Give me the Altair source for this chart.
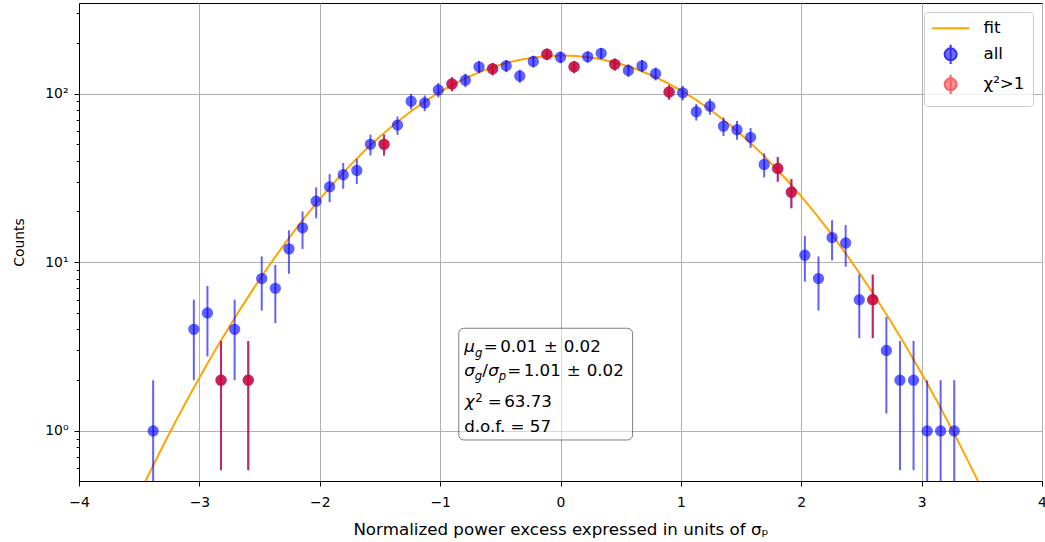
import altair as alt
import numpy as np
import pandas as pd

# ---- data ----
bin_x = [-3.384, -3.046, -2.933, -2.820, -2.707, -2.594, -2.482, -2.369,
         -2.256, -2.143, -2.030, -1.918, -1.805, -1.692, -1.579, -1.466,
         -1.354, -1.241, -1.128, -1.015, -0.902, -0.790, -0.677, -0.564,
         -0.451, -0.338, -0.226, -0.113, 0.000, 0.113, 0.226, 0.338,
         0.451, 0.564, 0.677, 0.790, 0.902, 1.015, 1.128, 1.241,
         1.354, 1.466, 1.579, 1.692, 1.805, 1.918, 2.030, 2.143,
         2.256, 2.369, 2.482, 2.594, 2.707, 2.820, 2.933, 3.046,
         3.158, 3.271]
counts = [1, 4, 5, 2, 4, 2, 8, 7,
          12, 16, 23, 28, 33, 35, 50, 50,
          65, 90, 88, 105, 114, 120, 144, 140,
          146, 127, 155, 171, 164, 144, 165, 173,
          149, 137, 146, 131, 102, 101, 78, 84,
          64, 61, 55, 38, 36, 26, 11, 8,
          14, 13, 6, 6, 3, 2, 2, 1,
          1, 1]

red_x = [-2.820, -2.594, -1.466, -0.902, -0.564, -0.113, 0.113, 0.451,
         0.902, 1.805, 1.918, 2.594]
red_counts = [2, 2, 50, 114, 140, 171, 144, 149, 102, 36, 26, 6]

fit_x = [-3.5, -3.25, -3.0, -2.75, -2.5, -2.25, -2.0, -1.75, -1.5, -1.25,
         -1.0, -0.75, -0.5, -0.25, 0.0, 0.25, 0.5, 0.75, 1.0, 1.25,
         1.5, 1.75, 2.0, 2.25, 2.5, 2.75, 3.0, 3.25, 3.5]
fit_y = [0.425, 0.966, 2.07, 4.16, 7.89, 14.08, 23.63, 37.35, 55.54, 77.73,
         102.4, 126.9, 148.1, 162.6, 168.0, 163.4, 149.5, 128.8, 104.4, 79.65,
         57.2, 38.64, 24.58, 14.71, 8.28, 4.39, 2.19, 1.029, 0.455]

series_names = ["fit", "all", "χ²>1"]
series_colors = ["orange", "blue", "red"]

x_ticks = [-4, -3, -2, -1, 0, 1, 2, 3, 4]
y_ticks = [0.6, 0.7, 0.8, 0.9, 1, 2, 3, 4, 5, 6, 7, 8, 9, 10,
           20, 30, 40, 50, 60, 70, 80, 90, 100, 200, 300]

# ---- tables ----
def with_err(xs, ns):
    d = pd.DataFrame({"x": xs, "n": ns})
    e = np.sqrt(d["n"])
    d["lo"] = np.maximum(d["n"] - e, 1e-3)
    d["hi"] = d["n"] + e
    return d

all_df = with_err(bin_x, counts)
red_df = with_err(red_x, red_counts)
fit_df = pd.DataFrame({"x": fit_x, "y": fit_y})
legend_df = pd.DataFrame({"series": series_names})
one = pd.DataFrame({"k": [0]})

FONT = "DejaVu Sans"
ALPHA = 0.62

xs = alt.Scale(domain=[-4, 4], nice=False, zero=False)
ys = alt.Scale(type="log", domain=[0.505, 344], nice=False)

major = "datum.value == 1 || datum.value == 10 || datum.value == 100"

x_axis = alt.Axis(
    values=x_ticks,
    labelExpr="datum.value < 0 ? '\u2212' + abs(datum.value) : '' + datum.value",
    title="Normalized power excess expressed in units of σₚ",
    grid=True, gridColor="#b0b0b0", gridWidth=1,
    tickSize=5, tickColor="black", tickWidth=1,
    domainColor="black", domainWidth=1,
    labelFont=FONT, labelFontSize=13.9, labelColor="black",
    labelBaseline="alphabetic", labelPadding=20.5, labelFlush=False,
    labelOverlap=False,
    titleFont=FONT, titleFontSize=16.7, titleFontWeight="normal",
    titleColor="black", titleBaseline="alphabetic", titleY=53,
)
y_axis = alt.Axis(
    values=y_ticks,
    labelExpr="datum.value == 1 ? '10\u2070' : datum.value == 10 ? '10\u00b9' : datum.value == 100 ? '10\u00b2' : ''",
    title="Counts",
    grid=True, gridColor="#b0b0b0", gridWidth=1,
    gridOpacity={"condition": {"test": major, "value": 1}, "value": 0},
    tickSize={"condition": {"test": major, "value": 5}, "value": 2.8},
    tickColor="black", tickWidth=1,
    domainColor="black", domainWidth=1,
    labelFont=FONT, labelFontSize=13.9, labelColor="black",
    labelPadding=6, labelOverlap=False, labelFlush=False,
    titleFont=FONT, titleFontSize=13.9, titleFontWeight="normal",
    titleColor="black", titleBaseline="alphabetic", titleX=-56,
)

X = alt.X("x:Q", scale=xs, axis=x_axis)

fit = alt.Chart(fit_df).mark_line(
    color="orange", strokeWidth=2, interpolate="natural", clip=True
).encode(x=X, y=alt.Y("y:Q", scale=ys, axis=y_axis))


def errpts(df, color):
    bars = alt.Chart(df).mark_rule(
        color=color, strokeWidth=2, opacity=ALPHA, clip=True
    ).encode(x=alt.X("x:Q"), y=alt.Y("lo:Q"), y2="hi:Q")
    pts = alt.Chart(df).mark_circle(
        color=color, size=128, opacity=ALPHA, clip=True
    ).encode(x=alt.X("x:Q"), y=alt.Y("n:Q"))
    return [bars, pts]


# annotation box
box = alt.Chart(one).mark_rect(
    fill="white", fillOpacity=0.5, stroke="black", strokeOpacity=0.5,
    strokeWidth=1, cornerRadius=5
).encode(x=alt.datum(-0.845), x2=alt.datum(0.599),
         y=alt.datum(4.06), y2=alt.datum(0.884))


def seg(text, dx, dy, size=16.7, italic=False):
    return alt.Chart(one).mark_text(
        text=text, align="left", baseline="alphabetic", font=FONT,
        fontSize=size, fontStyle="italic" if italic else "normal",
        color="black", dx=dx, dy=dy
    ).encode(x=alt.datum(-0.8), y=alt.datum(1))


SUB = 11.7
L1, L2, L3, L4 = -78.7, -55.0, -23.5, 1.3
SD = 4.4
texts = [
    seg("μ", 0, L1, italic=True),
    seg("g", 10.7, L1 + SD, SUB, True),
    seg("=", 19.5, L1),
    seg("0.01", 36, L1),
    seg("±", 79.5, L1),
    seg("0.02", 99.5, L1),
    seg("σ", 0, L2, italic=True),
    seg("g", 10.5, L2 + SD, SUB, True),
    seg("/", 18, L2),
    seg("σ", 24, L2, italic=True),
    seg("p", 34.5, L2 + SD, SUB, True),
    seg("=", 43, L2),
    seg("1.01", 59.5, L2),
    seg("±", 102.5, L2),
    seg("0.02", 122.5, L2),
    seg("χ", 0.5, L3, italic=True),
    seg("2", 11, L3 - 5.5, SUB),
    seg("=", 23.5, L3),
    seg("63.73", 40, L3),
    seg("d.o.f. = 57", 0, L4),
]

circ = "M0,-1A1,1 0 1,1 0,1A1,1 0 1,1 0,-1Z M0,-1.6V1.6"
leg = alt.Legend(
    title=None, orient="top-right", offset=9,
    fillColor="rgba(255,255,255,0.8)", strokeColor="#cccccc",
    cornerRadius=3, padding=8, symbolSize=144, symbolStrokeWidth=2,
    labelFont=FONT, labelFontSize=16.7, labelColor="black",
    labelOffset=24.5, symbolOffset=10.3, rowPadding=2,
)
legend_layer = alt.Chart(legend_df).transform_filter("false").mark_point(
    filled=True
).encode(
    fill=alt.Fill("series:N", scale=alt.Scale(domain=series_names, range=series_colors), legend=leg),
    stroke=alt.Stroke("series:N", scale=alt.Scale(domain=series_names, range=series_colors), legend=leg),
    shape=alt.Shape("series:N", scale=alt.Scale(domain=series_names, range=["M-3.1,0H3.1", circ, circ]), legend=leg),
    opacity=alt.Opacity("series:N", scale=alt.Scale(domain=series_names, range=[1, ALPHA, ALPHA]), legend=leg),
)

layers = [fit] + errpts(all_df, "blue") + errpts(red_df, "red") + [box] + texts + [legend_layer]

chart = alt.layer(*layers).properties(
    width=963, height=478,
    autosize=alt.AutoSizeParams(type="none"),
    padding={"left": 79, "top": 3, "right": 3, "bottom": 61},
    background="white",
).configure_view(stroke="black", strokeWidth=1)

chart.save("out.html", embed_options={"renderer": "svg", "actions": False})
